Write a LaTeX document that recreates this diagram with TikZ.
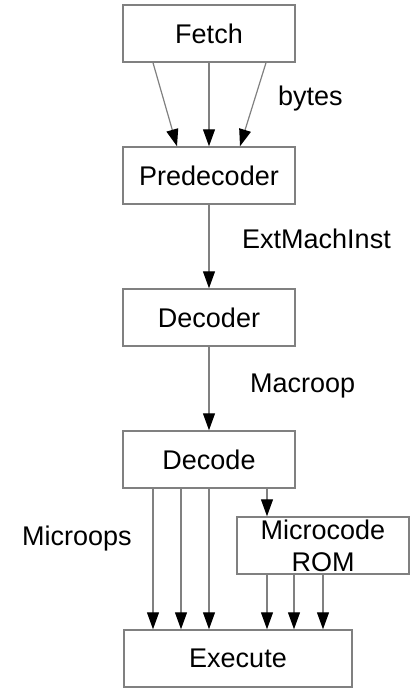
\documentclass[tikz,border=0pt]{standalone}
\usepackage{fontspec}
\setmainfont{Liberation Sans}
\usetikzlibrary{positioning,arrows.meta}
\tikzset{
  stage/.style={draw=gray,line width=1.5pt,minimum width=172pt,minimum height=57pt,
    inner sep=0pt,font=\fontsize{27}{32}\selectfont},
  flow/.style={draw=gray,line width=1.2pt,-{Triangle[length=17pt,width=12pt,color=black]}},
  lbl/.style={font=\fontsize{27}{32}\selectfont,inner sep=0pt}
}

\begin{document}
\begin{tikzpicture}[x=1pt,y=-1pt,node distance=142pt,on grid]
    \useasboundingbox (0,0) rectangle (410,688);
    \node[stage] (fetch) at (209,33.5) {Fetch};
    \node[stage] (predec) [below = of fetch] {Predecoder};
    \node[stage] (decoder) [below = of predec] {Decoder};
    \node[stage] (decode) [below = of decoder] {Decode};
    \node[stage,align=center] (rom) [below right = 86pt and 114pt of decode] {Microcode\\ROM};
    \node[stage,minimum width=228pt] (exec) [below right = 199pt and 29pt of decode] {Execute};
    % labels
    \node[lbl,anchor=base west] (bytes) at (278,105) {bytes};
    \node[lbl,anchor=base west] (emi) at (242,248) {ExtMachInst};
    \node[lbl,anchor=base west] (macro) at (250,392) {Macroop};
    \node[lbl,anchor=base west] (micro) at (22,545) {Microops};
    % connectors
    \draw[flow] ([xshift=-56pt]fetch.south) -- ([xshift=-32pt]predec.north);
    \draw[flow] (fetch) -- (predec);
    \draw[flow] ([xshift=57pt]fetch.south) -- ([xshift=31pt]predec.north);
    \draw[flow] (predec) -- (decoder);
    \draw[flow] (decoder) -- (decode);
    \foreach \dx in {-56,-28,0}
      \draw[flow] ([xshift=\dx pt]decode.south) -- ([xshift=\dx pt]decode.south |- exec.north);
    \draw[flow] ([xshift=58pt]decode.south) -- ([xshift=-56pt]rom.north);
    \foreach \dx in {-56,-29,0}
      \draw[flow] ([xshift=\dx pt]rom.south) -- ([xshift=\dx pt]rom.south |- exec.north);
  \end{tikzpicture}
\end{document}
